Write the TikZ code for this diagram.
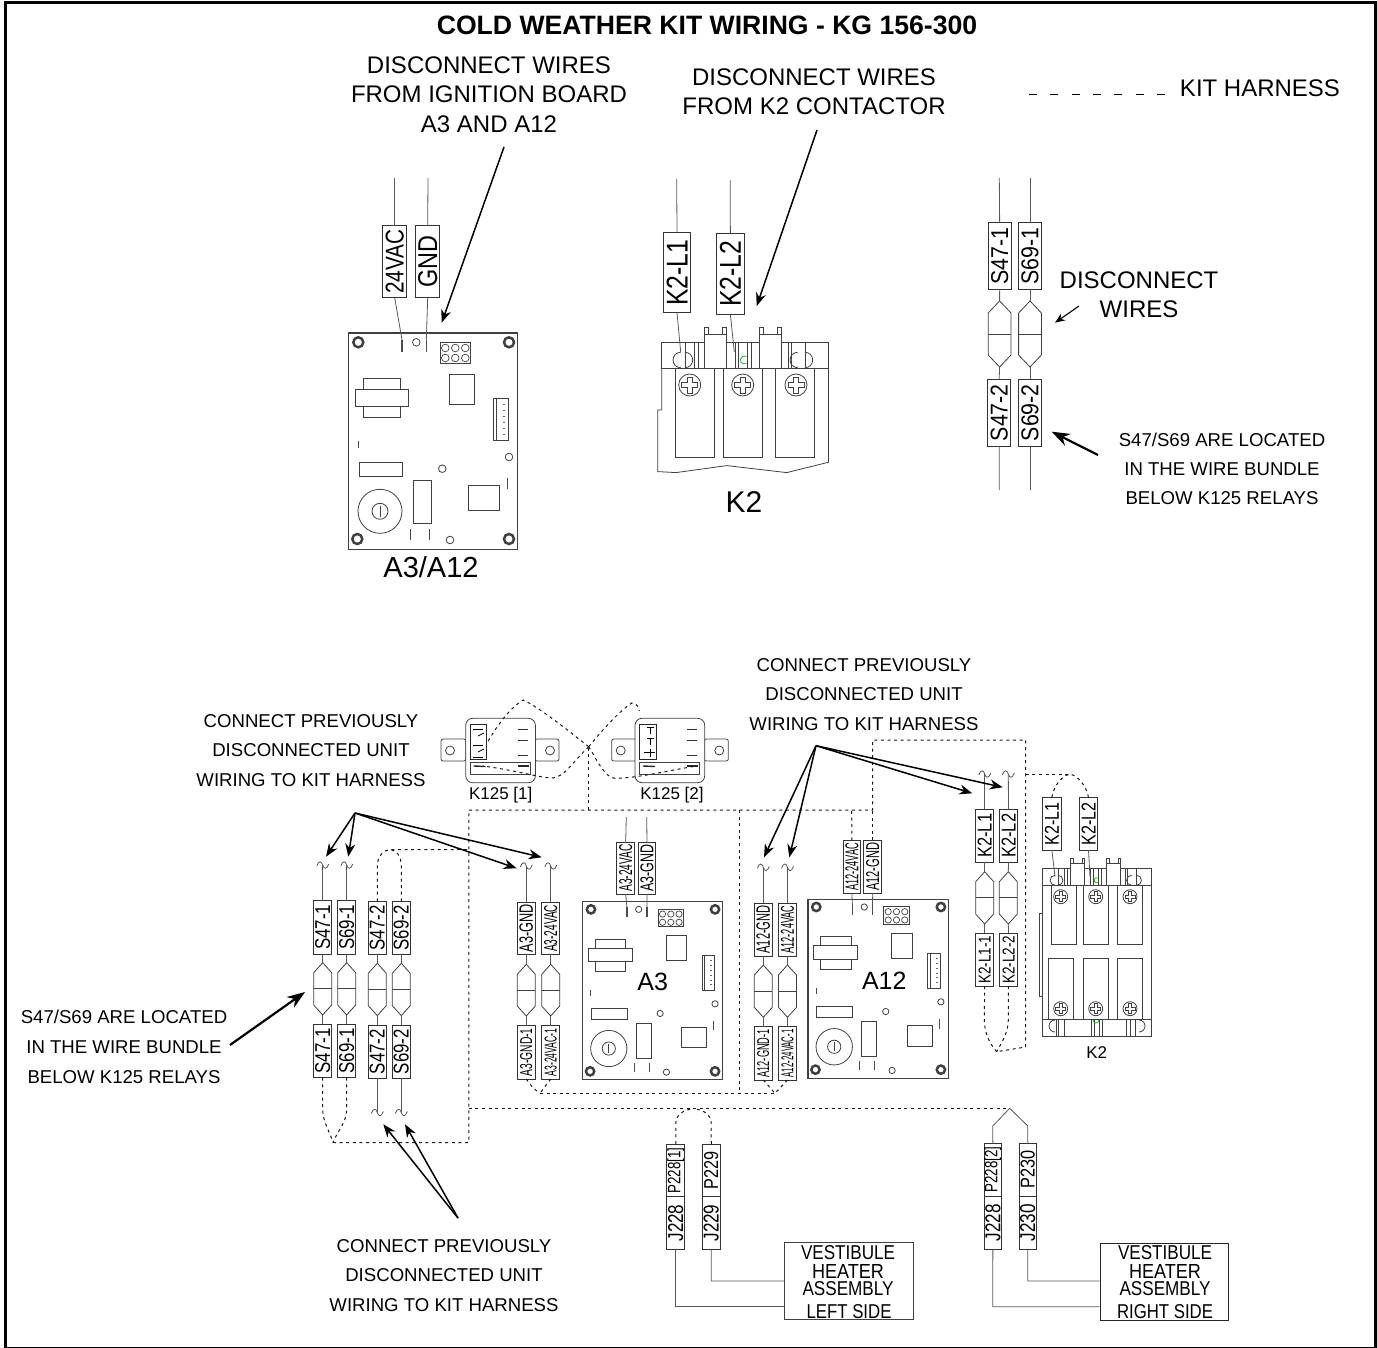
\documentclass[tikz,border=0pt]{standalone}
\usepackage{fontspec}
\usepackage{graphicx}
\setmainfont{Liberation Sans}
\usetikzlibrary{arrows.meta}
\newcommand\fs[2]{\fontsize{#1}{#2}\selectfont}
\tikzset{
  wire/.style={line width=.8pt,draw=black!65},
  part/.style={line width=.8pt,draw=black!75},
  kit/.style={line width=1pt,draw=black!90,dash pattern=on 3pt off 3.6pt},
  call/.style={line width=1.5pt,-{Stealth[length=13pt,width=10pt]}},
  thickcall/.style={line width=2.2pt,-{Stealth[length=18pt,width=13pt]}},
  labbox/.style={draw=black!80,line width=.9pt,inner sep=0pt,outer sep=0pt,fill=white},
  txt/.style={inner sep=0pt,align=center,text=black},
}
% label box: name,x1,x2,y1,y2,textlen,textheight,text
\newcommand\lab[8]{\node[labbox,minimum width={(#3-#2)*1pt},minimum height={(#5-#4)*1pt}] (#1) at ({(#2+#3)/2},{(#4+#5)/2}) {\rotatebox{90}{\resizebox{#6pt}{#7pt}{\fs{18}{20}#8}}};}
% fuse: name,cx,top,bot,halfwidth,shoulder
\newcommand\fuse[6]{\draw[part] (#2,#3) -- ({#2+#5},{#3+#6}) -- ({#2+#5},{#4-#6}) -- (#2,#4) -- ({#2-#5},{#4-#6}) -- ({#2-#5},{#3+#6}) -- cycle;
  \draw[part] ({#2-#5},{(#3+#4)/2}) -- ({#2+#5},{(#3+#4)/2});
  \coordinate (#1t) at (#2,#3); \coordinate (#1b) at (#2,#4);}
\newcommand\tild[3]{\coordinate (#1) at (#2,#3);
  \draw[wire] ({#2-6},{#3+1}) .. controls ({#2-4},{#3-5}) and ({#2-1},{#3-4}) .. (#2,#3) .. controls ({#2+1},{#3+4}) and ({#2+4},{#3+5}) .. ({#2+6},{#3-1});}
\newcommand\screw[3]{\draw[part] (#1,#2) circle (#3);
  \draw[part,line width=.7pt] ({#1-.22*#3},{#2-.72*#3}) -- ({#1+.22*#3},{#2-.72*#3}) -- ({#1+.22*#3},{#2-.22*#3}) -- ({#1+.72*#3},{#2-.22*#3}) -- ({#1+.72*#3},{#2+.22*#3}) -- ({#1+.22*#3},{#2+.22*#3}) -- ({#1+.22*#3},{#2+.72*#3}) -- ({#1-.22*#3},{#2+.72*#3}) -- ({#1-.22*#3},{#2+.22*#3}) -- ({#1-.72*#3},{#2+.22*#3}) -- ({#1-.72*#3},{#2-.22*#3}) -- ({#1-.22*#3},{#2-.22*#3}) -- cycle;}
\newcommand\hole[2]{\draw[line width=2.5pt,draw=black!75] (#1,#2) circle (5);}
% control board: x,y,scale,prefix
\newcommand\board[4]{\begin{scope}[shift={(#1,#2)},scale=#3]
  \draw[part,line width=1.1pt] (0,0) rectangle (169.6,216.4);
  \foreach \a/\b in {10/9.3,160.7/9.3,9/206,160.7/206}{\hole{\a}{\b}}
  \draw[line width=1.2pt,black!70] (53.7,7) -- (53.7,19);
  \draw[line width=1.2pt,black!70] (78,7) -- (78,19);
  \coordinate (#4p1) at (53.7,7); \coordinate (#4p2) at (78,7);
  \foreach \a/\b in {68/9.3,160.7/124,94/135.7,101.7/207}{\draw[part] (\a,\b) circle (3.8);}
  \draw[part,line width=1pt] (91.7,9.3) rectangle (122.3,30.3);
  \foreach \a in {97,107,117}{\draw[part,line width=.7pt] (\a,15) circle (3.8); \draw[part,line width=.7pt] (\a,25) circle (3.8);}
  \draw[part] (101.3,41.3) rectangle (126.3,71.3);
  \draw[part] (15,45.3) rectangle (52.3,84.3);
  \draw[part,fill=white] (7,56.3) rectangle (60,73);
  \draw[part,line width=1pt] (145,65.7) rectangle (160.3,107.3);
  \draw[part,line width=.6pt] (148,65.7) -- (148,107.3);
  \foreach \b in {71,77,83,89,95,101}{\draw[line width=.8pt,black!60] (155,\b) -- (157,\b);}
  \draw[line width=1pt,black!70] (9.7,107.7) -- (9.7,114.7);
  \draw[part] (10.7,129) rectangle (54,143);
  \draw[line width=1pt,black!70] (159,144.7) -- (159,156.3);
  \draw[part] (64.7,147.3) rectangle (83.3,190);
  \draw[part] (120.3,152.3) rectangle (150.7,177.3);
  \draw[part] (31.7,178.3) circle (22);
  \draw[part] (31.7,178.3) circle (8);
  \draw[part] (31.7,172.5) -- (31.7,184);
  \draw[line width=1pt,black!70] (62.3,196) -- (62.3,207);
  \draw[line width=1pt,black!70] (80.7,196) -- (80.7,207);
\end{scope}}
% contactor head: x,y,scale,prefix
\newcommand\khead[4]{\begin{scope}[shift={(#1,#2)},scale=#3]
  \draw[part] (0,0) rectangle (166.7,26);
  \foreach \a in {23.3,32.3,37,73.3,76.7,85.7,90,126.7,130,143.3}{\draw[part,line width=.6pt] (\a,0) -- (\a,26);}
  \draw[part] (19,25.4) arc (90:270:7.7);
  \draw[part] (23.3,25.4) arc (90:-90:7.7);
  \draw[part] (136,25.4) arc (90:270:7.7);
  \draw[part] (143.3,25.4) arc (90:-90:7.7);
  \foreach \a in {42.7,98}{
    \draw[part,fill=white] (\a,-8.3) rectangle ({\a+21.5},26);
    \draw[part] (\a,-8.3) -- (\a,-15) -- ({\a+4},-15) -- ({\a+4},-8.3);
    \draw[part] ({\a+17.5},-8.3) -- ({\a+17.5},-15) -- ({\a+21.5},-15) -- ({\a+21.5},-8.3);}
  \draw[green!70!black,line width=.7pt] (84.7,21.2) arc (60:300:4);
\end{scope}}
\begin{document}
\begin{tikzpicture}[x=1pt,y=-1pt]
\useasboundingbox (0,0) rectangle (1377,1348);
\draw[line width=3pt] (5,3) rectangle (1375.7,1348);
% ------ texts
\node[txt,font=\fs{26.6}{30}\bfseries] (title) at (707,25) {COLD WEATHER KIT WIRING - KG 156-300};
\node[txt,font=\fs{24}{29.5}] (t1) at (489,94.5) {DISCONNECT WIRES\\FROM IGNITION BOARD\\A3 AND A12};
\node[txt,font=\fs{24}{29.5}] (t2) at (814,91.5) {DISCONNECT WIRES\\FROM K2 CONTACTOR};
\node[txt,font=\fs{24}{29}] (t3) at (1260,88) {KIT HARNESS};
\node[txt,font=\fs{24}{29}] (t4) at (1139,294.5) {DISCONNECT\\WIRES};
\node[txt,font=\fs{18.6}{29.2}] (t5) at (1222,469) {S47/S69 ARE LOCATED\\IN THE WIRE BUNDLE\\BELOW K125 RELAYS};
\node[txt,font=\fs{18.6}{30}] (t6) at (124,1047) {S47/S69 ARE LOCATED\\IN THE WIRE BUNDLE\\BELOW K125 RELAYS};
\node[txt,font=\fs{18.6}{29.5}] (t7) at (311,750.5) {CONNECT PREVIOUSLY\\DISCONNECTED UNIT\\WIRING TO KIT HARNESS};
\node[txt,font=\fs{18.6}{29.3}] (t8) at (864,694.5) {CONNECT PREVIOUSLY\\DISCONNECTED UNIT\\WIRING TO KIT HARNESS};
\node[txt,font=\fs{18.6}{29.5}] (t9) at (444,1275.5) {CONNECT PREVIOUSLY\\DISCONNECTED UNIT\\WIRING TO KIT HARNESS};
\node[txt,font=\fs{29}{30}] (ta) at (431,567) {A3/A12};
\node[txt,font=\fs{30}{30}] (tk) at (744,502) {K2};
\node[txt,font=\fs{25}{25}] (tA3) at (652.7,982) {A3};
\node[txt,font=\fs{25}{25}] (tA12) at (884.3,981) {A12};
\node[txt,font=\fs{17}{17}] (tK2) at (1096.7,1052.7) {K2};
\node[txt,font=\fs{17}{18}] (tK1) at (500.7,795) {K125 [1]};
\node[txt,font=\fs{17}{18}] (tK2b) at (672,795) {K125 [2]};
% legend
\coordinate (lg1) at (1029,95); \coordinate (lg2) at (1165,95);
\draw[line width=1pt,dash pattern=on 8pt off 13.33pt] (lg1) -- (lg2);
% ------ top boards
\board{348.3}{333}{1}{bt}
\lab{l24}{382.7}{406.7}{225.7}{297.7}{64}{18}{24VAC}
\lab{lgnd}{415.7}{439.7}{225.7}{297.7}{52}{19}{GND}
\coordinate (w1) at (394.7,178); \coordinate (w2) at (428,178);
\draw[wire] (w1) -- (l24.north); \draw[wire] (w2) -- (lgnd.north);
\draw[wire] (l24.south) -- (btp1); \draw[wire] (lgnd.south) -- (btp2);
% top K2
\khead{661.7}{342.3}{1}{ka}
\foreach \a/\b in {28/42.7,81/42.7,134.3/42.7}{\screw{\a+661.7}{\b+342.3}{11}}
\draw[part] (675.4,368.3) -- (675.4,457.3) -- (714,457.3) -- (714,368.3);
\draw[part] (723.7,368.3) -- (723.7,457.3) -- (762,457.3) -- (762,368.3);
\draw[part] (775.7,368.3) -- (775.7,457.3) -- (814.4,457.3) -- (814.4,368.3);
\draw[part] (661.7,368.3) -- (661.7,410) -- (657.7,410) -- (657.7,471.6) -- (676,472.6) -- (726.7,465.6) -- (786.7,472.6) -- (828.4,462.3) -- (828.4,368.3);
\lab{lk1}{663.3}{690.7}{232.3}{312.7}{66}{21}{K2-L1}
\lab{lk2}{716.7}{744}{233.3}{314.3}{66}{21}{K2-L2}
\coordinate (w3) at (676.7,179); \coordinate (w4) at (730.3,180);
\coordinate (w3b) at (680.7,352); \coordinate (w4b) at (734.3,352);
\draw[wire] (w3) -- (lk1.north); \draw[wire] (w4) -- (lk2.north);
\draw[wire] (lk1.south) -- (w3b); \draw[wire] (lk2.south) -- (w4b);
% top right S47/S69
\lab{ra1}{988.3}{1011}{222.7}{289.3}{57}{17}{S47-1}
\lab{ra2}{1018.7}{1041.3}{222.7}{289.3}{57}{17}{S69-1}
\lab{rb1}{987.7}{1010.7}{379.3}{446}{57}{17}{S47-2}
\lab{rb2}{1018.5}{1041.5}{379.3}{446}{57}{17}{S69-2}
\fuse{rf1}{999.6}{301}{367}{11.4}{12}
\fuse{rf2}{1030}{301}{367}{11.4}{12}
\coordinate (rt1) at (999.3,178); \coordinate (rt2) at (1030,178);
\coordinate (rl1) at (999.3,490); \coordinate (rl2) at (1030,490);
\draw[wire] (rt1) -- (ra1.north); \draw[wire] (rt2) -- (ra2.north);
\draw[wire] (ra1.south) -- (rf1t); \draw[wire] (ra2.south) -- (rf2t);
\draw[wire] (rf1b) -- (rb1.north); \draw[wire] (rf2b) -- (rb2.north);
\draw[wire] (rb1.south) -- (rl1); \draw[wire] (rb2.south) -- (rl2);
% top arrows
\coordinate (a1s) at (504,147); \coordinate (a1e) at (441.7,322.7);
\coordinate (a2s) at (817,130); \coordinate (a2e) at (756.7,306);
\coordinate (a3s) at (1079,306); \coordinate (a3e) at (1055,322.7);
\coordinate (a4s) at (1098,455); \coordinate (a4e) at (1051.7,431.7);
\draw[call] (a1s) -- (a1e); \draw[call] (a2s) -- (a2e);
\draw[line width=1.1pt,-{Stealth[length=10pt,width=8pt]}] (a3s) -- (a3e);
\draw[thickcall] (a4s) -- (a4e);
% ------ K125
\foreach \ox/\ex in {465.7/441,635/611.7}{
  \draw[part,rounded corners=2pt] (\ex,739) rectangle ({\ex+24.7},761);
  \draw[part,rounded corners=2pt] ({\ox+69.3},739) rectangle ({\ox+93.3},761);
  \draw[part,rounded corners=7pt,fill=white] (\ox,718.3) rectangle ({\ox+69.7},782.7);
  \draw[part] ({\ex+9},750.5) circle (4.5);
  \draw[part] ({\ox+84.3},750.5) circle (4.5);
  \draw[line width=1pt,black!85] ({\ox+4.5},724.5) rectangle ({\ox+21},759);
  \draw[part] ({\ox+4.5},762) rectangle ({\ox+64.6},774);
  \foreach \yy in {729,740.7,755.7}{\draw[line width=1pt,black!80] ({\ox+52},\yy) -- ({\ox+62},\yy);}
  \draw[line width=1.6pt,black!85] ({\ox+52},766) -- ({\ox+63},766);
  \draw[line width=1.4pt,black!85] ({\ox+8},766) -- ({\ox+20},766.5);
}
\foreach \yy in {729,745,757}{\draw[line width=.8pt,black] (473,\yy) -- (483,\yy);}
\draw[line width=.8pt] (478,736) -- (484,733); \draw[line width=.8pt] (478,752) -- (484,749);
\draw[line width=.8pt] (650,727) -- (650,734) (647,727) -- (654,727) (650,738) -- (650,745) (647,738) -- (654,738) (650,749) -- (650,757) (644,752) -- (655,752);
% ------ lower boards
\board{582.7}{901.7}{.8235}{bA}
\board{808}{899.3}{.827}{bB}
\lab{a3t1}{616.7}{634.7}{842.3}{894}{47}{13}{A3-24VAC}
\lab{a3t2}{638.3}{655.7}{842.3}{894}{47}{13}{A3-GND}
\coordinate (a3w1) at (626.3,817); \coordinate (a3w2) at (646.7,817);
\draw[wire] (a3w1) -- (a3t1.north); \draw[wire] (a3w2) -- (a3t2.north);
\draw[wire] (a3t1.south) -- (bAp1); \draw[wire] (a3t2.south) -- (bAp2);
\lab{a12t1}{843}{860.7}{840.3}{893.3}{48}{13}{A12-24VAC}
\lab{a12t2}{863.7}{881.7}{840.3}{893.3}{48}{13}{A12-GND}
\draw[wire] (a12t1.south) -- (bBp1); \draw[wire] (a12t2.south) -- (bBp2);
% S47 group lower-left
\lab{sa1}{313.7}{331.7}{900.7}{954}{45}{15}{S47-1}
\lab{sa2}{337.7}{355.7}{900.7}{954}{45}{15}{S69-1}
\lab{sa3}{368.3}{386.3}{901.3}{954.3}{45}{15}{S47-2}
\lab{sa4}{392.3}{410.3}{901.3}{954.3}{45}{15}{S69-2}
\lab{sb1}{313.7}{331.7}{1024.3}{1077.7}{45}{15}{S47-1}
\lab{sb2}{337.7}{355.7}{1024.3}{1077.7}{45}{15}{S69-1}
\lab{sb3}{368.3}{386.3}{1025}{1078.3}{45}{15}{S47-2}
\lab{sb4}{392.3}{410.3}{1025}{1078.3}{45}{15}{S69-2}
\fuse{sf1}{322.7}{962.7}{1015}{9}{10}
\fuse{sf2}{346.7}{962.7}{1015}{9}{10}
\fuse{sf3}{377.3}{963.3}{1015.6}{9}{10}
\fuse{sf4}{401.3}{963.3}{1015.6}{9}{10}
\foreach \n in {1,2,3,4}{\draw[wire] (sa\n.south) -- (sf\n t); \draw[wire] (sf\n b) -- (sb\n.north);}
\tild{st1}{322.7}{865}\tild{st2}{346.7}{865}
\draw[wire] (st1) -- (sa1.north); \draw[wire] (st2) -- (sa2.north);
\tild{st3}{377.3}{1112.5}\tild{st4}{401.3}{1112.5}
\draw[wire] (sb3.south) -- (st3); \draw[wire] (sb4.south) -- (st4);
% A3 group
\lab{ga1}{517.3}{535.3}{902.3}{954.3}{48}{13.5}{A3-GND}
\lab{ga2}{541.7}{559.7}{902.3}{954.3}{47}{13}{A3-24VAC}
\lab{gb1}{517.3}{535.3}{1025.7}{1079}{48}{12}{A3-GND-1}
\lab{gb2}{541.7}{559.7}{1025.7}{1079}{48}{12}{A3-24VAC-1}
\fuse{gf1}{526.3}{964.3}{1016}{9}{10}
\fuse{gf2}{550.7}{964.3}{1016}{9}{10}
\tild{gt1}{526.3}{866}\tild{gt2}{550.7}{866}
\foreach \n in {1,2}{\draw[wire] (gt\n) -- (ga\n.north); \draw[wire] (ga\n.south) -- (gf\n t); \draw[wire] (gf\n b) -- (gb\n.north);}
% A12 group
\lab{ha1}{754.3}{772.3}{903}{956}{48}{13.5}{A12-GND}
\lab{ha2}{778.3}{796.7}{903}{956}{48}{13}{A12-24VAC}
\lab{hb1}{754.3}{772.3}{1026.7}{1080}{48}{12}{A12-GND-1}
\lab{hb2}{778.3}{796.7}{1026.7}{1080}{48}{12}{A12-24VAC-1}
\fuse{hf1}{763.3}{965}{1017.3}{9}{10}
\fuse{hf2}{787.5}{965}{1017.3}{9}{10}
\tild{ht1}{763.3}{867.3}\tild{ht2}{787.5}{867.3}
\foreach \n in {1,2}{\draw[wire] (ht\n) -- (ha\n.north); \draw[wire] (ha\n.south) -- (hf\n t); \draw[wire] (hf\n b) -- (hb\n.north);}
% K2 group centre
\lab{ka1}{975.7}{993.7}{809.3}{862.3}{44}{14}{K2-L1}
\lab{ka2}{999.3}{1017.7}{809.3}{862.3}{44}{14}{K2-L2}
\lab{kb1}{975.7}{993.7}{933.3}{986}{48}{12}{K2-L1-1}
\lab{kb2}{999.3}{1017.7}{933.3}{986}{48}{12}{K2-L2-2}
\fuse{kf1}{984.7}{871.7}{924}{9}{10}
\fuse{kf2}{1008.3}{871.7}{924}{9}{10}
\tild{kt1}{984.7}{774}\tild{kt2}{1008.3}{774}
\foreach \n in {1,2}{\draw[wire] (kt\n) -- (ka\n.north); \draw[wire] (ka\n.south) -- (kf\n t); \draw[wire] (kf\n b) -- (kb\n.north);}
% lower K2
\khead{1042.7}{868.7}{.654}{kb}
\foreach \a in {1060.7,1095.7,1130}{\screw{\a}{896.7}{7}\screw{\a}{1008.7}{7}}
\draw[part] (1042.7,885.7) -- (1042.7,1036) -- (1151.7,1036) -- (1151.7,885.7);
\draw[part] (1042.7,1019.3) -- (1151.7,1019.3);
\draw[part] (1051.3,885.7) -- (1051.3,944.3) -- (1076,944.3) -- (1076,885.7);
\draw[part] (1083.3,885.7) -- (1083.3,944.3) -- (1108.7,944.3) -- (1108.7,885.7);
\draw[part] (1117,885.7) -- (1117,944.3) -- (1142.7,944.3) -- (1142.7,885.7);
\draw[part] (1048.3,1019.3) -- (1048.3,958.3) -- (1073.3,958.3) -- (1073.3,1019.3);
\draw[part] (1083,1019.3) -- (1083,958.3) -- (1108.3,958.3) -- (1108.3,1019.3);
\draw[part] (1117,1019.3) -- (1117,958.3) -- (1142.7,958.3) -- (1142.7,1019.3);
\draw[part] (1042.7,913) -- (1039,913) -- (1039,996.7) -- (1042.7,996.7);
\foreach \a in {1056.7,1058.3,1064.3,1091.7,1094.3,1099.3,1102.3,1126.7,1130,1135}{\draw[part,line width=.7pt] (\a,1019.3) -- (\a,1036);}
\draw[part] (1055,1032) arc (90:270:6);
\draw[part] (1139,1032) arc (90:-90:6);
\draw[green!70!black,line width=.7pt] (1093,1020) arc (180:0:3);
\lab{kc1}{1042.7}{1061}{797.3}{850}{43}{14}{K2-L1}
\lab{kc2}{1079.3}{1097.7}{797.3}{850}{43}{14}{K2-L2}
\coordinate (kw1) at (1055,876.7); \coordinate (kw2) at (1090,876.7);
\draw[wire] (kc1.south) -- (kw1); \draw[wire] (kc2.south) -- (kw2);
% ------ bottom heaters
\lab{p1}{666.8}{684.8}{1144}{1196.7}{46}{13}{P228[1]}
\lab{j1}{666.8}{684.8}{1196.7}{1249.3}{37}{15}{J228}
\lab{p2}{702}{720.5}{1144}{1196.7}{38}{14}{P229}
\lab{j2}{702}{720.5}{1196.7}{1249.3}{37}{15}{J229}
\lab{p3}{984}{1001.7}{1143.3}{1196}{46}{13}{P228[2]}
\lab{j3}{984}{1001.7}{1196}{1249.3}{37}{15}{J228}
\lab{p4}{1019}{1036.5}{1143.3}{1196}{38}{14}{P230}
\lab{j4}{1019}{1036.5}{1196}{1249.3}{37}{15}{J230}
\node[draw=black!75,line width=.9pt,minimum width=128.6pt,minimum height=76.6pt,inner sep=0pt] (vl) at (848.7,1281) {};
\node[draw=black!85,line width=.9pt,minimum width=128pt,minimum height=77pt,inner sep=0pt] (vr) at (1164,1281.5) {};
\foreach \cx/\nm in {848/LEFT,1165/RIGHT}{
  \node[txt] at (\cx,1253) {\resizebox{94pt}{14pt}{\fs{18}{20}VESTIBULE}};
  \node[txt] at (\cx,1271) {\resizebox{72pt}{14pt}{\fs{18}{20}HEATER}};
  \node[txt] at (\cx,1289) {\resizebox{91pt}{14pt}{\fs{18}{20}ASSEMBLY}};
}
\node[txt] at (849,1312) {\resizebox{85pt}{14pt}{\fs{18}{20}LEFT SIDE}};
\node[txt] at (1165,1312) {\resizebox{96pt}{14pt}{\fs{18}{20}RIGHT SIDE}};
\draw[wire] (j1.south) -- (675.8,1306.7) -- (vl.west |- 0,1306.7);
\draw[wire] (j2.south) -- (711.2,1281) -- (vl.west |- 0,1281);
\draw[wire] (j3.south) -- (992.8,1306.7) -- (vr.west |- 0,1306.7);
\draw[wire] (j4.south) -- (1027.8,1281) -- (vr.west |- 0,1281);
\coordinate (apex) at (1009.7,1108.3);
\draw[wire] (p3.north) -- (992.8,1126) -- (apex) -- (1027.8,1126) -- (p4.north);
\coordinate (apexl) at (693.6,1109);
\draw[kit] (p1.north) -- (675.8,1123) .. controls (675.8,1115) and (684,1109) .. (apexl);
\draw[kit] (p2.north) -- (711.2,1123) .. controls (711.2,1115) and (703,1109) .. (apexl);
% ------ kit harness dashed
\coordinate (h0) at (468.8,1108.3);
\draw[kit] (h0) -- (apex);
\coordinate (hc) at (333,1142.5); \coordinate (hd) at (468.8,1142.5);
\coordinate (he) at (468.8,810); \coordinate (hf) at (739.3,810); \coordinate (hg) at (872.7,810);
\coordinate (hh) at (872.7,740); \coordinate (hi) at (1025.7,740); \coordinate (hj) at (1025.7,1047);
\coordinate (hk) at (996.7,1051.7);
\draw[kit] (sb1.south) -- (322.7,1110) .. controls (323,1122) and (329,1130) .. (hc);
\draw[kit] (sb2.south) -- (346.7,1110) .. controls (346.5,1122) and (338,1130) .. (hc);
\draw[kit] (hc) -- (hd) -- (he) -- (hf) -- (hg) -- (hh) -- (hi) -- (hj) -- (hk);
\draw[kit] (sa3.north) -- (377.3,866) .. controls (377.3,857) and (383,850) .. (390,849.5) -- (468.8,849.5);
\draw[kit] (sa4.north) -- (401.3,866) .. controls (401.3,857) and (397,850) .. (390,849.5);
\draw[kit] (kb1.south) -- (984.3,1020) .. controls (984.5,1034) and (990,1044) .. (hk);
\draw[kit] (kb2.south) -- (1008.3,1020) .. controls (1008.3,1032) and (1002,1042) .. (hk);
\draw[kit] (a12t1.north) -- (851.7,810);
\draw[kit] (a12t2.north) -- (hg);
% A3/A12 lower link
\coordinate (lk) at (540,1093.3); \coordinate (lm) at (775,1093.3);
\draw[kit] (hf) -- (739.3,1093.3);
\draw[kit] (gb1.south) .. controls (530,1085) and (535,1090) .. (lk);
\draw[kit] (gb2.south) -- (lk);
\draw[kit] (lk) -- (lm);
\draw[kit] (hb1.south) -- (lm);
\draw[kit] (hb2.south) -- (lm);
% K2 loop
\coordinate (kn) at (1070,774); \coordinate (kq) at (1025.7,774);
\draw[kit] (kq) -- (kn);
\draw[kit] (kc1.north) .. controls (1054,785) and (1062,776) .. (kn);
\draw[kit] (kc2.north) .. controls (1086,785) and (1078,776) .. (kn);
% K125 loop
\coordinate (xx) at (588.7,746.7);
\draw[kit] (he -| xx) -- (xx);
\draw[kit] (xx) .. controls (570,765) and (565,776) .. (553,778) .. controls (540,778) and (520,771) .. (483,766);
\draw[kit] (xx) .. controls (565,728) and (540,708) .. (523.3,700) .. controls (510,708) and (498,724) .. (487,743);
\draw[kit] (xx) .. controls (600,733) and (618,712) .. (631.7,703) .. controls (637,703) and (639,708) .. (639.3,711);
\draw[kit] (xx) .. controls (597,760) and (605,778) .. (615,778.3) .. controls (640,778) and (670,770) .. (696.7,766);
% ------ call-out arrows
\coordinate (cl) at (355,813);
\draw[call] (cl) -- (326,856.7);
\draw[call] (cl) -- (348.3,856.7);
\draw[call] (cl) -- (516.7,868.3);
\draw[call] (cl) -- (541.7,857.3);
\coordinate (cr) at (816,745.7);
\draw[call] (cr) -- (764,857.3);
\draw[call] (cr) -- (789.3,857.3);
\draw[call] (cr) -- (972.3,793.3);
\draw[call] (cr) -- (1002.7,787.3);
\coordinate (cb) at (458,1218);
\draw[call] (cb) -- (383.3,1124.3);
\draw[call] (cb) -- (405,1124.3);
\coordinate (cs) at (230,1045); \coordinate (ct) at (305,992);
\draw[thickcall] (cs) -- (ct);
\end{tikzpicture}
\end{document}
